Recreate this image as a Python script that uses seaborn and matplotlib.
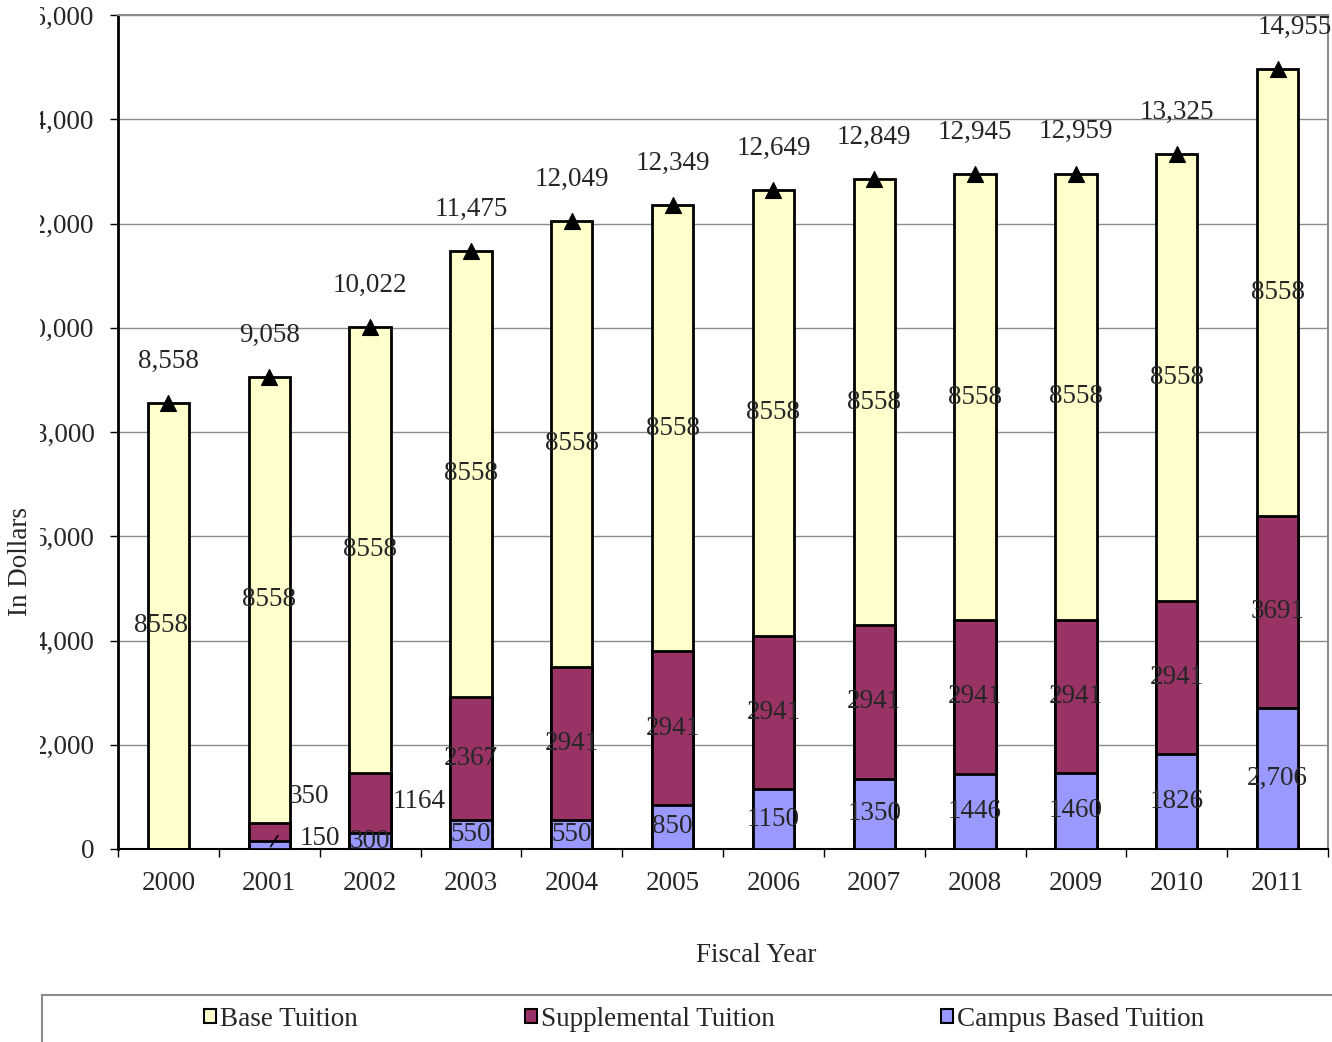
import numpy as np
import seaborn as sns
import matplotlib.pyplot as plt
from matplotlib.patches import Rectangle
from matplotlib.ticker import FuncFormatter, FixedLocator
from matplotlib.transforms import Bbox

# Data
years = ["2000", "2001", "2002", "2003", "2004", "2005",
         "2006", "2007", "2008", "2009", "2010", "2011"]
base = [8558] * 12
supplemental = [0, 350, 1164, 2367, 2941, 2941, 2941, 2941, 2941, 2941, 2941, 3691]
campus = [0, 150, 300, 550, 550, 850, 1150, 1350, 1446, 1460, 1826, 2706]
campus_labels = ["", "150", "300", "550", "550", "850", "1150", "1350",
                 "1446", "1460", "1826", "2,706"]

base_col = "#FFFFCC"
supp_col = "#993366"
camp_col = "#9999FF"

sns.set_style("white")
plt.rcParams["font.family"] = ["Liberation Serif", "DejaVu Serif"]

base_a = np.array(base)
supp_a = np.array(supplemental)
camp_a = np.array(campus)
totals = base_a + supp_a + camp_a
lower2 = supp_a + camp_a

fig = plt.figure(figsize=(13.32, 10.42), dpi=100)
ax = fig.add_axes([118 / 1332, 1 - 849 / 1042, 1210 / 1332, 834 / 1042])

# stacked bars, drawn tallest first
sns.barplot(x=years, y=totals, color=base_col, saturation=1, width=0.41,
            edgecolor="black", linewidth=2, ax=ax, zorder=3)
sns.barplot(x=years, y=lower2, color=supp_col, saturation=1, width=0.41,
            edgecolor="black", linewidth=2, ax=ax, zorder=3)
sns.barplot(x=years, y=camp_a, color=camp_col, saturation=1, width=0.41,
            edgecolor="black", linewidth=2, ax=ax, zorder=3)

# total markers
sns.scatterplot(x=years, y=totals, marker="^", color="black", s=130,
                edgecolor="black", ax=ax, zorder=5, legend=False)

fs = 19.5
for i in range(len(years)):
    dx = 0.17 if i == 11 else 0
    ax.annotate(f"{totals[i]:,}", (i + dx, totals[i]), xytext=(0, 30),
                textcoords="offset points", ha="center", va="center", fontsize=fs)
    # base label
    ax.text(i - (0.07 if i == 0 else 0), lower2[i] + base_a[i] / 2, str(base_a[i]),
            ha="center", va="center", fontsize=fs, zorder=6)
    if supp_a[i] > 0 and i not in (1, 2):
        ax.text(i, camp_a[i] + supp_a[i] / 2, str(supp_a[i]), ha="center",
                va="center", fontsize=fs, zorder=6)
    if camp_a[i] > 0 and i != 1:
        ax.text(i, camp_a[i] / 2, campus_labels[i], ha="center",
                va="center", fontsize=fs, zorder=6)

# small segments labelled beside the bars
ax.text(1.19, 998, str(supp_a[1]), ha="left", va="center", fontsize=fs, zorder=6)
ax.text(1.30, 211, str(camp_a[1]), ha="left", va="center", fontsize=fs, zorder=6)
ax.text(2.22, 902, str(supp_a[2]), ha="left", va="center", fontsize=fs, zorder=6)
ax.annotate("", xy=(0.998, 0), xytext=(1.1, 300),
            arrowprops=dict(arrowstyle="-", color="black", lw=1.2), zorder=6)

ax.set_xlim(-0.5, 11.5)
ax.set_ylim(0, 16000)
ax.yaxis.set_major_locator(FixedLocator(np.arange(0, 16001, 2000)))
ax.yaxis.set_major_formatter(FuncFormatter(lambda v, p: f"{int(v):,}"))
ax.grid(axis="y", color="#8c8c8c", linewidth=1, zorder=0)
ax.set_axisbelow(True)

ax.xaxis.set_minor_locator(FixedLocator(np.arange(-0.5, 12, 1)))
ax.tick_params(axis="x", which="major", length=0, pad=16, labelsize=fs)
ax.tick_params(axis="x", which="minor", length=6, width=1, direction="out",
               color="black", bottom=True)
ax.tick_params(axis="y", length=6, width=1, direction="out", color="black",
               left=True, labelsize=fs, pad=11)

# value labels are cut off at the left, as in the original export
clip = Bbox.from_extents(40, 0, 1332, 1042)
for t in ax.yaxis.get_major_ticks():
    t.label1.set_clip_on(True)
    t.label1.set_clip_box(clip)

for s in ["top", "right"]:
    ax.spines[s].set_color("#8c8c8c")
    ax.spines[s].set_linewidth(1.5)
ax.spines["left"].set_color("black")
ax.spines["left"].set_linewidth(2)
ax.spines["bottom"].set_color("black")
ax.spines["bottom"].set_linewidth(1.5)

ax.set_xlabel("")
ax.set_ylabel("")
fig.text(21 / 1332, 1 - 562 / 1042, "In Dollars", rotation=90, ha="center",
         va="center", fontsize=fs)
fig.text(756 / 1332, 1 - 956 / 1042, "Fiscal Year", ha="center", va="center",
         fontsize=fs)

# legend box
fig.patches.append(Rectangle((42 / 1332, -0.2), 1.2, 0.2 + 1 - 995 / 1042,
                             transform=fig.transFigure, fill=False,
                             edgecolor="#8c8c8c", linewidth=1.5))
handles = [Rectangle((0, 0), 1, 1, facecolor=c, edgecolor="black", linewidth=1.5)
           for c in (base_col, supp_col, camp_col)]
fig.legend(handles, ["Base Tuition", "Supplemental Tuition", "Campus Based Tuition"],
           loc="center left", bbox_to_anchor=(204 / 1332, 1 - 1019 / 1042),
           ncol=3, frameon=False, fontsize=fs, handlelength=0.45,
           handleheight=0.45, handletextpad=0.15, columnspacing=6.15,
           borderpad=0, borderaxespad=0)

fig.savefig("out.png", dpi=100)
